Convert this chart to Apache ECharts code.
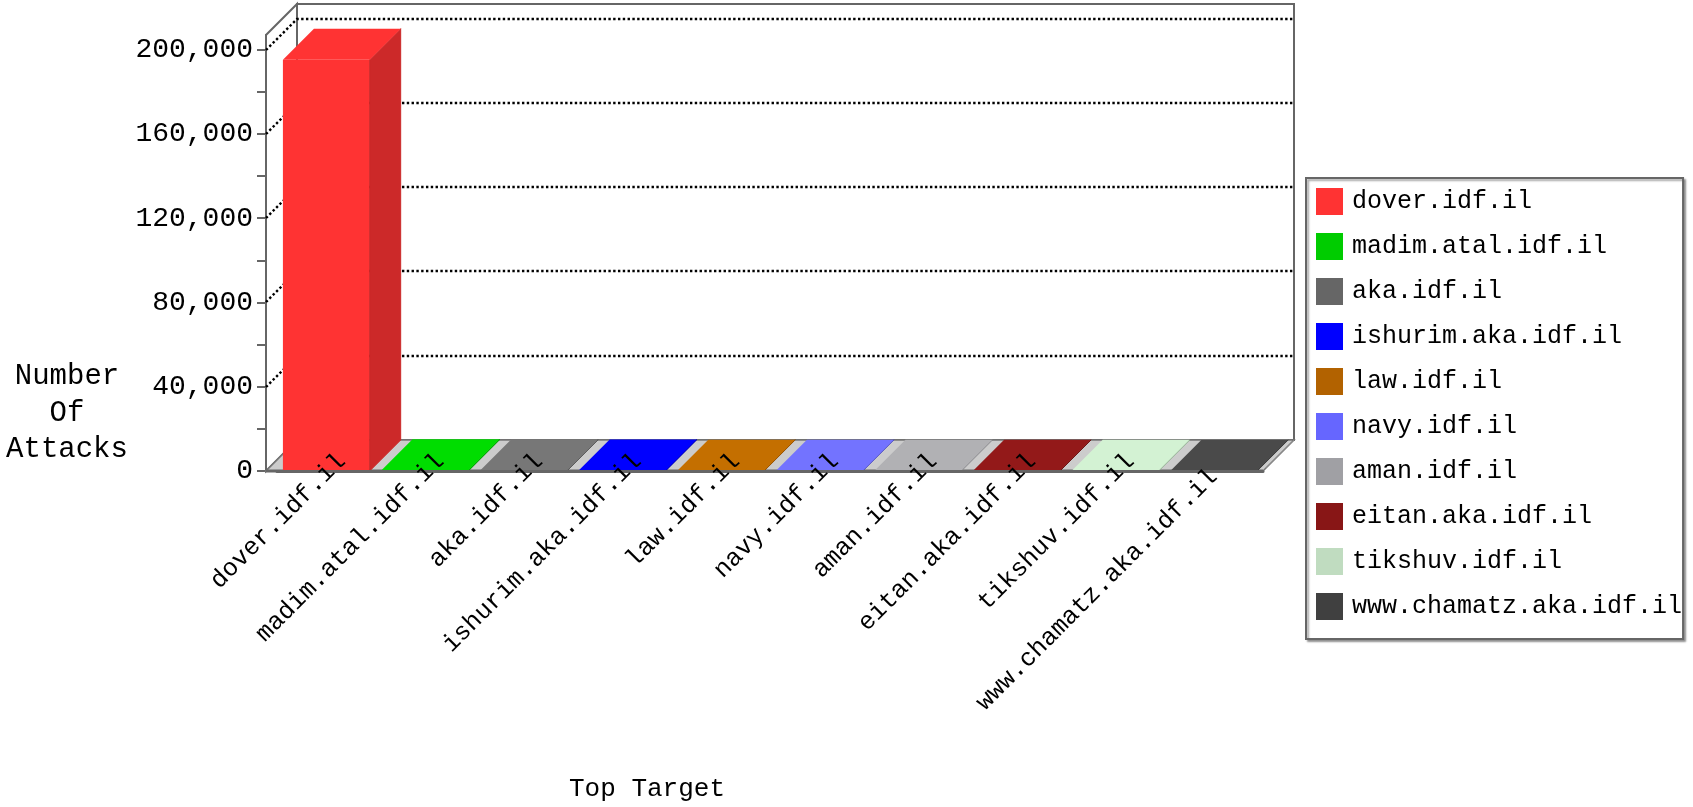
<!DOCTYPE html>
<html>
<head>
<meta charset="utf-8">
<script src="https://cdn.jsdelivr.net/npm/echarts@6/dist/echarts.min.js"></script>
<style>html,body{margin:0;padding:0;background:#fff}#c{width:1693px;height:807px}</style>
</head>
<body>
<div id="c"></div>
<script>
// ---- data ----
const categories = ['dover.idf.il', 'madim.atal.idf.il', 'aka.idf.il', 'ishurim.aka.idf.il', 'law.idf.il',
  'navy.idf.il', 'aman.idf.il', 'eitan.aka.idf.il', 'tikshuv.idf.il', 'www.chamatz.aka.idf.il'];
const attacks = [195300, 300, 250, 200, 150, 120, 100, 80, 60, 40];
const yTickValues = [0, 20000, 40000, 60000, 80000, 100000, 120000, 140000, 160000, 180000, 200000];
const yLabelValues = [0, 40000, 80000, 120000, 160000, 200000];
const gridValues = [40000, 80000, 120000, 160000, 200000];
const yMax = 207000;

// ---- styles ----
const legendColors = ['#FF3333', '#00CC00', '#666666', '#0000FF', '#B26200', '#6666FF', '#A0A0A4', '#881616', '#C0DCC0', '#404040'];
const faceColors = ['#FF3333', '#00DD00', '#777777', '#0000FF', '#C46F00', '#7373FF', '#B1B1B4', '#931919', '#D3F2D3', '#4A4A4A'];
const sideColors = ['#CC2929', '#00A000', '#555555', '#0000B0', '#8A4A00', '#4A4AC0', '#808084', '#601010', '#90B090', '#303030'];
const FONT = '"Liberation Mono", "Courier New", monospace';
const DX = 31, DY = 31, YOFF = 11;

function renderBackdrop(params, api) {
  const cs = params.coordSys;
  const x0 = cs.x - YOFF, x1 = cs.x + cs.width;
  const yb = api.coord([0, 0])[1];
  const yt = cs.y;
  const ch = [];
  ch.push({type: 'rect', shape: {x: x0 + DX, y: yt - DY, width: x1 - x0, height: yb - yt},
    style: {fill: '#fff', stroke: '#666', lineWidth: 2}});
  ch.push({type: 'polygon', shape: {points: [[x0, yt], [x0 + DX, yt - DY], [x0 + DX, yb - DY], [x0, yb]]},
    style: {fill: '#fff', stroke: '#666', lineWidth: 2}});
  gridValues.forEach(function (v) {
    const y = Math.round(api.coord([0, v])[1]);
    ch.push({type: 'polyline', shape: {points: [[x0, y], [x0 + DX, y - DY], [x1 + DX, y - DY]]},
      style: {fill: null, stroke: '#000', lineWidth: 2.4, lineDash: [2.4, 2.4]}});
  });
  ch.push({type: 'polygon', shape: {points: [[x0, yb], [x1, yb], [x1 + DX, yb - DY], [x0 + DX, yb - DY]]},
    style: {fill: '#cccccc', stroke: '#777', lineWidth: 1.5}});
  ch.push({type: 'line', shape: {x1: x1 + 3, y1: yb - 3, x2: x1 + DX, y2: yb - DY},
    style: {stroke: '#888', lineWidth: 1}});
  ch.push({type: 'line', shape: {x1: x0, y1: yb, x2: x1, y2: yb}, style: {stroke: '#666', lineWidth: 3}});
  return {type: 'group', children: ch};
}

function makeBarRenderer(k) {
  return function (params, api) {
    const i = api.value(0), v = api.value(1);
    const top = api.coord([i, v]);
    const base = api.coord([i, 0]);
    const w = api.size([1, 0])[0] * 0.88;
    const xl = top[0] - w / 2, xr = top[0] + w / 2, yt = top[1], yb = base[1];
    const ch = [];
    if (yb - yt > 0.5) {
      ch.push({type: 'rect', shape: {x: xl, y: yt, width: w, height: yb - yt}, style: {fill: faceColors[k]}});
    }
    ch.push({type: 'polygon', shape: {points: [[xr, yt], [xr + DX, yt - DY], [xr + DX, yb - DY], [xr, yb]]},
      style: {fill: sideColors[k], stroke: sideColors[k], lineWidth: 1}});
    ch.push({type: 'polygon', shape: {points: [[xl, yt], [xr, yt], [xr + DX, yt - DY], [xl + DX, yt - DY]]},
      style: {fill: faceColors[k]}});
    return {type: 'group', children: ch};
  };
}

const series = [{
  type: 'custom', name: '_backdrop', silent: true, z: 1,
  renderItem: renderBackdrop, data: [[0, 0]], encode: {x: 0, y: 1}
}];
categories.forEach(function (name, k) {
  series.push({
    type: 'custom', name: name, z: 2,
    itemStyle: {color: legendColors[k]},
    renderItem: makeBarRenderer(k),
    data: [[k, attacks[k]]], encode: {x: 0, y: 1}
  });
});

const chart = echarts.init(document.getElementById('c'));
chart.setOption({
  animation: false,
  backgroundColor: '#fff',
  grid: {left: 277, right: 430, top: 35, bottom: 335.5},
  xAxis: {
    type: 'category', data: categories, z: 5,
    axisLine: {lineStyle: {color: '#666', width: 3}},
    axisTick: {alignWithLabel: true, length: 8, lineStyle: {color: '#666', width: 2}},
    axisLabel: {rotate: 45, interval: 0, margin: 2, padding: [0, -22, 0, 0],
      fontFamily: FONT, fontSize: 25, color: '#000',
      formatter: function (v, idx) { return idx === categories.length - 1 ? '{w|' + v + '}' : v; },
      rich: {w: {fontFamily: FONT, fontSize: 25, color: '#000', padding: [0, 22, 0, 0]}}},
    name: 'Top Target', nameLocation: 'middle', nameGap: 305, nameMoveOverlap: false,
    nameTextStyle: {fontFamily: FONT, fontSize: 26, color: '#000', padding: [0, 246, 0, 0]}
  },
  yAxis: {
    type: 'value', min: 0, max: yMax, offset: YOFF,
    axisLine: {show: true, lineStyle: {color: '#666', width: 2}},
    axisTick: {show: true, length: 9, customValues: yTickValues, lineStyle: {color: '#666', width: 2}},
    axisLabel: {customValues: yLabelValues, margin: 13,
      formatter: function (v) { return Number(v).toLocaleString('en-US'); },
      fontFamily: FONT, fontSize: 28, color: '#000'},
    splitLine: {show: false},
    name: 'Number\nOf\nAttacks', nameLocation: 'start', nameRotate: 0, nameGap: -58, nameMoveOverlap: false,
    nameTextStyle: {align: 'center', verticalAlign: 'middle', fontFamily: FONT, fontSize: 29,
      lineHeight: 36.5, color: '#000', padding: [0, 398, 0, 0]}
  },
  legend: {
    orient: 'vertical', left: 1306, top: 178, data: categories, icon: 'rect',
    itemWidth: 27, itemHeight: 27, itemGap: 18, padding: [10, 1, 19, 10],
    borderColor: '#666', borderWidth: 2, backgroundColor: '#fff',
    shadowColor: 'rgba(0,0,0,0.35)', shadowOffsetX: 2, shadowOffsetY: 2, shadowBlur: 2,
    selectedMode: false,
    textStyle: {fontFamily: FONT, fontSize: 25, color: '#000', padding: [0, 0, 0, 4], lineHeight: 27}
  },
  series: series
});
</script>
</body>
</html>
